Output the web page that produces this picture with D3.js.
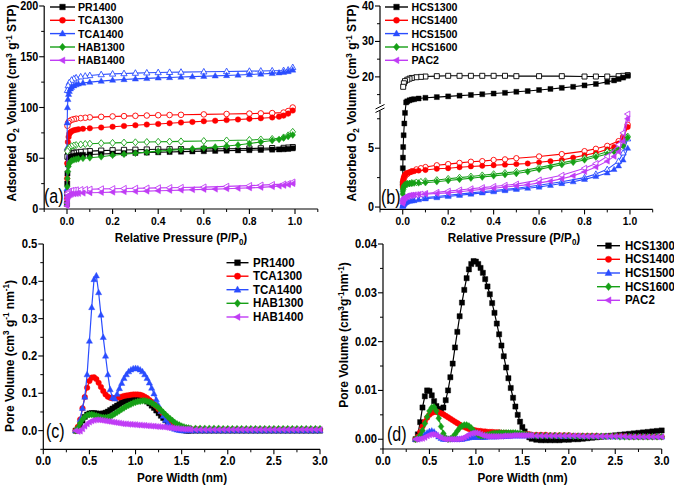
<!DOCTYPE html>
<html><head><meta charset="utf-8">
<script src="https://cdn.jsdelivr.net/npm/d3@7"></script>
<style>
body{margin:0;background:#fff;}
svg{display:block;font-family:"Liberation Sans",Arial,sans-serif;}
</style></head><body>
<svg id="chart" width="674" height="486"></svg>
<script>
// ---------- DATA ----------
const namesA = ['PR1400','TCA1300','TCA1400','HAB1300','HAB1400'];
const namesB = ['HCS1300','HCS1400','HCS1500','HCS1600','PAC2'];
const seriesColors = ['#000000','#ff0000','#2a4dff','#16a016','#c03cf5'];
const seriesSymbols = ['square','circle','triUp','diamond','triLeft'];

// relative pressure grids (adsorption / desorption branches)
const pAds = [0,0.0005,0.001,0.002,0.004,0.007,0.01,0.015,0.02,0.03,0.04,0.05,0.07,0.1,0.15,0.2,0.25,0.3,0.35,0.4,0.45,0.5,0.55,0.6,0.65,0.7,0.75,0.8,0.85,0.9,0.93,0.95,0.97,0.99];
const pDes = [0.99,0.97,0.95,0.9,0.85,0.8,0.7,0.6,0.5,0.45,0.4,0.35,0.3,0.25,0.2,0.15,0.1,0.08,0.06,0.04,0.03,0.02,0.01,0.005,0.002];

// panel (a) isotherms
const adsPR1400 = [5,15,25,35,44,48,50,51,51.5,52, 52.5,53,53.3,53.7,54.2,54.6,55,55.3,55.6,55.9, 56.2,56.5,56.8,57,57.3,57.5,57.8,58,58.2,58.5, 58.7,58.9,59.2,59.8];
const adsTCA1300 = [10,30,45,58,66,71,74,75.5,76.5,77.5, 78,78.5,79,79.5,80.3,81,81.8,82.5,83.2,83.8, 84.5,85.2,85.8,86.5,87,87.6,88.2,88.8,89.4,90.2, 91,92,94,97];
const adsTCA1400 = [20,60,85,100,108,113,116,118.5,120,121.5, 122.5,123.3,124.2,125,126,127,127.6,128.2,128.7,129.2, 129.6,130,130.4,130.8,131.2,131.6,132,132.5,133,133.6, 134.2,134.8,135.5,137];
const adsHAB1300 = [5,15,22,30,37,42,45,46.5,47.5,48.5, 49,49.5,50,50.5,51.5,53,54,55,56,57, 57.8,58.6,59.4,60.2,61,62,63,64.5,66,67.5, 68.5,70,71.5,73];
const adsHAB1400 = [3,6,9,11,12.5,13.5,14,14.5,14.8,15, 15.2,15.4,15.7,16,16.3,16.6,17,17.3,17.6,18, 18.3,18.6,19,19.3,19.6,20,20.4,20.8,21.3,22, 22.6,23.2,24,25];
const desPR1400 = [61,60.5,60.2,60,59.8,59.6,59.4,59.2,59,58.9, 58.8,58.6,58.4,58.2,57.9,57.5,57,56.6,56.2,55.7, 55.3,54.8,54,53,51.5];
const desTCA1300 = [100,96.5,95,94.5,94.2,94,93.6,93.2,92.8,92.6, 92.4,92.1,91.8,91.5,91.2,90.8,90.3,89.9,89.5,89, 88.5,87.8,86.5,85,82];
const desTCA1400 = [139.5,137,136.5,136.2,136,135.8,135.5,135.2,134.9,134.7, 134.5,134.2,133.9,133.5,133.1,132.5,131.6,131,130.3,129.3, 128.4,127,124.5,121.5,117];
const desHAB1300 = [76,72.5,70.5,69,68.5,68,67.5,67,66.6,66.4, 66.2,66,65.7,65.4,65.1,64.8,64.3,64,63.6,63, 62.5,61.8,60.5,59,57];
const desHAB1400 = [26.5,25,24.5,24,23.5,23,22.3,21.6,21.2,21, 20.8,20.6,20.4,20.2,20,19.8,19.5,19.3,19.1,18.8, 18.5,18.2,17.5,16.5,15];

// panel (b) isotherms
const adsHCS1300 = [2,3.3,4.2,5.1,6.1,7.1,8.0,12.8,13.1,13.4, 13.6,13.7,13.9,14.1,14.3,14.5,14.7,14.9,15.1,15.3, 15.5,15.8,16.0,16.3,16.6,16.9,17.2,17.6,18.0,18.6, 19.0,19.4,19.8,20.3];
const adsHCS1400 = [1.7,1.9,2.1,2.3,2.5,2.65,2.75,2.85,2.9,2.95, 3.0,3.05,3.1,3.15,3.25,3.3,3.38,3.45,3.5,3.55, 3.6,3.65,3.7,3.8,3.9,4.0,4.2,4.4,4.6,4.9, 5.1,5.4,5.9,6.8];
const adsHCS1500 = [0.05,0.1,0.15,0.2,0.25,0.3,0.35,0.4,0.45,0.5, 0.53,0.55,0.62,0.7,0.8,0.9,1.0,1.1,1.2,1.3, 1.4,1.5,1.6,1.7,1.85,2.0,2.15,2.35,2.6,2.9, 3.2,3.5,4.0,5.0];
const adsHCS1600 = [1.1,1.3,1.45,1.6,1.75,1.85,1.9,1.95,1.98,2.0, 2.02,2.04,2.05,2.07,2.15,2.25,2.35,2.45,2.55,2.65, 2.75,2.85,3.0,3.2,3.4,3.6,3.8,4.0,4.25,4.5, 4.7,4.9,5.2,5.9];
const adsPAC2 = [0.3,0.4,0.5,0.6,0.7,0.8,0.85,0.9,0.95,1.0, 1.02,1.05,1.08,1.1,1.15,1.2,1.3,1.4,1.5,1.6, 1.7,1.8,1.9,2.05,2.2,2.4,2.65,3.0,3.4,3.9, 4.3,4.7,5.6,7.5];
const desHCS1300 = [20.5,20.3,20.2,20.1,20.1,20.1,20.2,20.2,20.2,20.3, 20.3,20.3,20.3,20.3,20.3,20.2,20.1,20.0,19.9,19.7, 19.5,19.2,18.8,18.2,17.2];
const desHCS1400 = [7.0,6.0,5.6,5.2,4.95,4.75,4.5,4.3,4.15,4.05, 4.0,3.9,3.85,3.75,3.65,3.55,3.4,3.3,3.2,3.05, 2.95,2.8,2.6,2.4,2.2];
const desHCS1500 = [5.8,4.6,3.9,3.2,2.8,2.5,2.15,1.85,1.6,1.5, 1.4,1.3,1.2,1.1,1.0,0.9,0.8,0.75,0.7,0.62, 0.58,0.52,0.45,0.35,0.25];
const desHCS1600 = [6.0,5.4,5.1,4.7,4.4,4.15,3.75,3.35,3.0,2.9, 2.8,2.7,2.6,2.5,2.4,2.3,2.2,2.15,2.1,2.05, 2.0,1.95,1.85,1.7,1.5];
const desPAC2 = [7.9,6.3,5.3,4.3,3.7,3.3,2.7,2.3,1.95,1.85, 1.75,1.65,1.55,1.45,1.35,1.25,1.15,1.1,1.05,1.0, 0.95,0.9,0.8,0.7,0.55];

// pore width grid (nm) for panels (c) and (d)
const poreWidth = [0.35,0.375,0.40,0.425,0.45,0.475,0.50,0.525,0.55,0.575, 0.60,0.625,0.65,0.675,0.70,0.725,0.75,0.775,0.80,0.825,
  0.85,0.875,0.90,0.925,0.95,0.975,1.00,1.025,1.05,1.075, 1.10,1.125,1.15,1.175,1.20,1.225,1.25,1.275,1.30,1.325,
  1.35,1.375,1.40,1.425,1.45,1.475,1.50,1.525,1.55,1.575, 1.60,
  1.65,1.70,1.75,1.80,1.85,1.90,1.95,2.00,2.05,2.10, 2.15,2.20,2.25,2.30,2.35,2.40,2.45,2.50,2.55,2.60, 2.65,2.70,2.75,2.80,2.85,2.90,2.95,3.00];

// panel (c) pore size distributions
const psdPR1400 = [0.000,0.005,0.015,0.027,0.037,0.043,0.046,0.047,0.047,0.046, 0.045,0.045,0.046,0.048,0.051,0.055,0.059,0.063,0.067,0.071,
  0.075,0.078,0.081,0.084,0.086,0.087,0.088,0.088,0.087,0.085, 0.082,0.078,0.073,0.067,0.061,0.054,0.047,0.040,0.034,0.028,
  0.022,0.017,0.012,0.009,0.006,0.004,0.002,0.001,0.000,0.000, 0.000,
  0,0,0,0,0,0,0,0,0,0, 0,0,0,0,0,0,0,0,0,0, 0,0,0,0,0,0,0,0];
const psdTCA1300 = [0.000,0.010,0.030,0.060,0.090,0.115,0.133,0.142,0.143,0.138, 0.128,0.117,0.106,0.097,0.091,0.088,0.087,0.087,0.088,0.089,
  0.091,0.093,0.094,0.095,0.096,0.097,0.097,0.097,0.096,0.094, 0.091,0.087,0.082,0.077,0.071,0.065,0.058,0.051,0.045,0.039,
  0.033,0.027,0.022,0.018,0.014,0.011,0.009,0.007,0.006,0.005, 0.004,
  0.004,0.004,0.003,0.003,0.003,0.003,0.003,0.003,0.003,0.003, 0.003,0.003,0.003,0.003,0.003,0.003,0.003,0.003,0.003,0.003, 0.003,0.003,0.003,0.003,0.003,0.003,0.003,0.003];
const psdTCA1400 = [0.000,0.005,0.030,0.060,0.090,0.150,0.240,0.330,0.405,0.415, 0.370,0.310,0.250,0.200,0.150,0.110,0.088,0.085,0.098,0.113,
  0.127,0.140,0.150,0.158,0.163,0.166,0.167,0.166,0.163,0.158, 0.150,0.140,0.128,0.114,0.099,0.083,0.067,0.052,0.039,0.028,
  0.019,0.012,0.007,0.004,0.002,0.001,0.000,0.000,0.000,0.000, 0.000,
  0,0,0,0,0,0,0,0,0,0, 0,0,0,0,0,0,0,0,0,0, 0,0,0,0,0,0,0,0];
const psdHAB1300 = [0.000,0.008,0.020,0.030,0.037,0.041,0.043,0.043,0.042,0.040, 0.038,0.036,0.035,0.035,0.036,0.038,0.041,0.045,0.049,0.053,
  0.057,0.061,0.065,0.068,0.071,0.074,0.076,0.078,0.079,0.080, 0.080,0.079,0.077,0.074,0.070,0.066,0.061,0.055,0.049,0.043,
  0.037,0.032,0.027,0.022,0.018,0.015,0.012,0.010,0.008,0.007, 0.006,
  0.006,0.006,0.006,0.006,0.006,0.006,0.005,0.005,0.005,0.005, 0.005,0.005,0.005,0.005,0.005,0.005,0.005,0.005,0.005,0.005, 0.005,0.005,0.005,0.005,0.005,0.005,0.005,0.005];
const psdHAB1400 = [0.000,-0.002,-0.001,0.005,0.012,0.018,0.023,0.026,0.028,0.029, 0.029,0.028,0.027,0.026,0.025,0.024,0.023,0.022,0.021,0.020,
  0.019,0.018,0.018,0.017,0.017,0.016,0.016,0.015,0.015,0.014, 0.014,0.013,0.013,0.012,0.012,0.011,0.011,0.010,0.010,0.009,
  0.008,0.008,0.007,0.006,0.006,0.005,0.005,0.004,0.004,0.004, 0.003,
  0.003,0.003,0.003,0.003,0.003,0.003,0.003,0.003,0.003,0.003, 0.003,0.003,0.003,0.003,0.003,0.003,0.003,0.003,0.003,0.003, 0.003,0.003,0.003,0.003,0.003,0.003,0.003,0.003];

// panel (d) pore size distributions
const psdHCS1300 = [0.0000,0.0010,0.0035,0.0065,0.0088,0.0100,0.0099,0.0090,0.0078,0.0068, 0.0062,0.0061,0.0065,0.0080,0.0100,0.0127,0.0155,0.0188,0.0220,0.0252,
  0.0280,0.0306,0.0330,0.0348,0.0359,0.0365,0.0364,0.0359,0.0351,0.0341, 0.0328,0.0313,0.0297,0.0279,0.0259,0.0237,0.0215,0.0192,0.0170,0.0147,
  0.0125,0.0105,0.0085,0.0067,0.0050,0.0036,0.0025,0.0016,0.0009,0.0004, 0.0001,
  -0.0001,-0.0002,-0.0002,-0.0002,-0.0002,-0.0002,-0.0001,-0.0001,0.0000,0.0000, 0.0001,0.0002,0.0003,0.0004,0.0005,0.0006,0.0007,0.0008,0.0009,0.0010,
  0.0011,0.0012,0.0013,0.0014,0.0015,0.0016,0.0017,0.0018];
const psdHCS1400 = [0.0000,0.0005,0.0015,0.0026,0.0036,0.0044,0.0050,0.0054,0.0056,0.0056, 0.0055,0.0053,0.0051,0.0048,0.0045,0.0042,0.0039,0.0036,0.0033,0.0030,
  0.0027,0.0025,0.0023,0.0021,0.0020,0.0019,0.0018,0.0017,0.0017,0.0016, 0.0016,0.0015,0.0015,0.0015,0.0014,0.0014,0.0014,0.0013,0.0013,0.0013,
  0.0012,0.0012,0.0012,0.0011,0.0011,0.0011,0.0010,0.0010,0.0010,0.0010, 0.0009,
  0.0009,0.0009,0.0009,0.0008,0.0008,0.0008,0.0008,0.0008,0.0007,0.0007, 0.0007,0.0007,0.0007,0.0007,0.0006,0.0006,0.0006,0.0006,0.0006,0.0006,
  0.0005,0.0005,0.0005,0.0005,0.0005,0.0005,0.0005,0.0005];
const psdHCS1500 = [0.0000,0.0001,0.0003,0.0006,0.0010,0.0013,0.0016,0.0017,0.0015,0.0010, 0.0005,0.0002,0.0000,0.0000,0.0000,0.0000,0.0000,0.0000,0.0000,0.0000,
  0.0000,0.0001,0.0002,0.0003,0.0004,0.0004,0.0004,0.0004,0.0004,0.0004, 0.0004,0.0005,0.0005,0.0005,0.0005,0.0005,0.0006,0.0006,0.0006,0.0006,
  0.0006,0.0007,0.0007,0.0007,0.0007,0.0007,0.0007,0.0007,0.0007,0.0007, 0.0007,
  0.0007,0.0007,0.0007,0.0007,0.0007,0.0006,0.0006,0.0006,0.0006,0.0006, 0.0006,0.0006,0.0006,0.0006,0.0006,0.0005,0.0005,0.0005,0.0005,0.0005,
  0.0005,0.0005,0.0005,0.0005,0.0005,0.0005,0.0005,0.0005];
const psdHCS1600 = [0.0000,0.0002,0.0008,0.0018,0.0032,0.0046,0.0058,0.0065,0.0066,0.0058, 0.0043,0.0026,0.0012,0.0003,0.0000,0.0001,0.0004,0.0010,0.0017,0.0023,
  0.0027,0.0029,0.0029,0.0027,0.0023,0.0018,0.0013,0.0009,0.0007,0.0007, 0.0008,0.0009,0.0010,0.0011,0.0012,0.0012,0.0013,0.0013,0.0013,0.0013,
  0.0013,0.0013,0.0013,0.0013,0.0012,0.0012,0.0011,0.0010,0.0009,0.0008, 0.0008,
  0.0007,0.0007,0.0007,0.0007,0.0007,0.0007,0.0007,0.0007,0.0006,0.0006, 0.0006,0.0006,0.0006,0.0006,0.0006,0.0006,0.0006,0.0006,0.0005,0.0005,
  0.0005,0.0005,0.0005,0.0005,0.0005,0.0005,0.0005,0.0005];
const psdPAC2 = [0.0000,0.0000,0.0001,0.0002,0.0004,0.0007,0.0009,0.0010,0.0010,0.0008, 0.0005,0.0003,0.0001,0.0000,0.0000,0.0000,0.0000,0.0000,0.0000,0.0001,
  0.0002,0.0004,0.0007,0.0010,0.0012,0.0013,0.0013,0.0012,0.0010,0.0008, 0.0007,0.0006,0.0006,0.0006,0.0006,0.0006,0.0006,0.0006,0.0007,0.0007,
  0.0007,0.0007,0.0008,0.0008,0.0008,0.0008,0.0008,0.0008,0.0008,0.0008, 0.0008,
  0.0007,0.0007,0.0007,0.0007,0.0007,0.0007,0.0007,0.0007,0.0007,0.0007, 0.0006,0.0006,0.0006,0.0006,0.0006,0.0006,0.0006,0.0006,0.0006,0.0006,
  0.0005,0.0005,0.0005,0.0005,0.0005,0.0005,0.0005,0.0005];

// tick values
const ticksAx = [0.0,0.2,0.4,0.6,0.8,1.0], minorAx = [-0.1,0.1,0.3,0.5,0.7,0.9,1.1];
const ticksAy = [0,50,100,150,200], minorAy = [25,75,125,175];
const ticksBy = [0,5,20,30,40], minorBy = [2.5,7.5,15,25,35];
const ticksCx = [0,0.5,1.0,1.5,2.0,2.5,3.0], minorCx = [0.25,0.75,1.25,1.75,2.25,2.75];
const ticksCy = [0,0.1,0.2,0.3,0.4,0.5], minorCy = [-0.05,0.05,0.15,0.25,0.35,0.45];
const ticksDy = [0,0.01,0.02,0.03,0.04], minorDy = [-0.002,0.005,0.015,0.025,0.035];

// ---------- DRAWING ----------
const svg = d3.select('#chart');
const SX = 0.9;

function sym(type, r) {
  switch (type) {
    case 'square': return `M${-r},${-r}H${r}V${r}H${-r}Z`;
    case 'circle': return d3.symbol(d3.symbolCircle, Math.PI * r * r * 1.15)();
    case 'triUp': return `M0,${-r*1.3}L${r*1.2},${r*0.85}L${-r*1.2},${r*0.85}Z`;
    case 'diamond': return `M0,${-r*1.35}L${r*1.1},0L0,${r*1.35}L${-r*1.1},0Z`;
    case 'triLeft': return `M${-r*1.3},0L${r*0.85},${-r*1.2}L${r*0.85},${r*1.2}Z`;
  }
}

function label(g, x, y, str, size, weight, anchor) {
  return g.append('text').attr('transform', `translate(${x},${y}) scale(${SX},1)`)
    .attr('font-size', size).attr('font-weight', weight || 'bold')
    .attr('text-anchor', anchor || 'middle').attr('fill', '#000').text(str);
}

function bottomAxis(g, x, yPos, major, minor, fmt, fs) {
  const [r0, r1] = x.range();
  g.append('line').attr('x1', r0).attr('x2', r1).attr('y1', yPos).attr('y2', yPos).attr('stroke', '#000').attr('stroke-width', 1.2);
  major.forEach(v => {
    g.append('line').attr('x1', x(v)).attr('x2', x(v)).attr('y1', yPos).attr('y2', yPos + 5).attr('stroke', '#000').attr('stroke-width', 1.1);
    label(g, x(v), yPos + 16, fmt(v), fs, 'bold', 'middle');
  });
  minor.forEach(v => {
    g.append('line').attr('x1', x(v)).attr('x2', x(v)).attr('y1', yPos).attr('y2', yPos + 3).attr('stroke', '#000').attr('stroke-width', 1);
  });
}

function leftAxis(g, y, xPos, major, minor, fmt, fs, drawLine) {
  if (drawLine !== false) {
    const [r0, r1] = y.range();
    g.append('line').attr('x1', xPos).attr('x2', xPos).attr('y1', r0).attr('y2', r1).attr('stroke', '#000').attr('stroke-width', 1.2);
  }
  major.forEach(v => {
    g.append('line').attr('x1', xPos - 5).attr('x2', xPos).attr('y1', y(v)).attr('y2', y(v)).attr('stroke', '#000').attr('stroke-width', 1.1);
    label(g, xPos - 6, y(v) + 4, fmt(v), fs, 'bold', 'end');
  });
  minor.forEach(v => {
    g.append('line').attr('x1', xPos - 3).attr('x2', xPos).attr('y1', y(v)).attr('y2', y(v)).attr('stroke', '#000').attr('stroke-width', 1);
  });
}

function drawSeries(g, xs, ys, x, y, color, type, r, open, lw) {
  const n = Math.min(xs.length, ys.length);
  const pts = d3.range(n).map(i => [xs[i], ys[i]]);
  g.append('path').attr('d', d3.line().x(d => x(d[0])).y(d => y(d[1]))(pts))
    .attr('fill', 'none').attr('stroke', color).attr('stroke-width', lw || 1.1);
  g.selectAll(null).data(pts).enter().append('path')
    .attr('d', sym(type, r))
    .attr('transform', d => `translate(${x(d[0])},${y(d[1])})`)
    .attr('fill', open ? '#fff' : color).attr('stroke', color).attr('stroke-width', open ? 0.9 : 0.4);
}

function legend(g, names, x0, x1, mx, tx, ys, r, fontSize) {
  names.forEach((n, i) => {
    const y = ys[i];
    g.append('line').attr('x1', x0).attr('x2', x1).attr('y1', y).attr('y2', y).attr('stroke', seriesColors[i]).attr('stroke-width', 1.4);
    g.append('path').attr('d', sym(seriesSymbols[i], r)).attr('transform', `translate(${mx},${y})`).attr('fill', seriesColors[i]).attr('stroke', seriesColors[i]).attr('stroke-width', 0.4);
    label(g, tx, y + 4, n, fontSize, 'bold', 'start');
  });
}

function richText(t, parts, size) {
  let shift = 0;
  parts.forEach(p => {
    const target = p.s === 'sub' ? 3 : p.s === 'sup' ? -4.5 : 0;
    t.append('tspan').attr('dy', target - shift).attr('font-size', p.s ? size * 0.68 : size).text(p.t);
    shift = target;
  });
}
function yTitle(g, x, y, parts, size) {
  const t = g.append('text').attr('transform', `translate(${x},${y}) rotate(-90)`)
    .attr('font-size', size).attr('font-weight', 'bold').attr('text-anchor', 'middle');
  richText(t, parts, size);
}
function xTitle(g, x, y, parts, size) {
  const t = g.append('text').attr('transform', `translate(${x},${y}) scale(${SX},1)`)
    .attr('font-size', size).attr('font-weight', 'bold').attr('text-anchor', 'middle');
  richText(t, parts, size);
}
const f1 = d3.format('.1f');

// ===== Panel (a) =====
{
  const g = svg.append('g');
  const x = d3.scaleLinear().domain([-0.1, 1.1]).range([44.2, 317.8]);
  const y = d3.scaleLinear().domain([0, 200]).range([209, 6]);
  bottomAxis(g, x, 209, ticksAx, minorAx, f1, 11.5);
  leftAxis(g, y, 44.2, ticksAy, minorAy, d3.format('d'), 12);
  const ads = [adsPR1400, adsTCA1300, adsTCA1400, adsHAB1300, adsHAB1400];
  const des = [desPR1400, desTCA1300, desTCA1400, desHAB1300, desHAB1400];
  ads.forEach((a, i) => {
    drawSeries(g, pDes, des[i], x, y, seriesColors[i], seriesSymbols[i], 2.6, true);
    drawSeries(g, pAds, a, x, y, seriesColors[i], seriesSymbols[i], 2.6, false);
  });
  legend(g, namesA, 50, 75, 62.5, 78, [7, 20.3, 33.6, 47, 60.3], 2.8, 11.8);
  yTitle(g, 16, 103, [{t:'Adsorbed O'},{t:'2',s:'sub'},{t:' Volume (cm'},{t:'3',s:'sup'},{t:' g'},{t:'-1',s:'sup'},{t:' STP)'}], 12);
  xTitle(g, 181, 242, [{t:'Relative Pressure (P/P'},{t:'0',s:'sub'},{t:')'}], 13);
  g.append('text').attr('transform', 'translate(44,203) scale(0.8,1)').attr('font-size', 20).text('(a)');
}

// ===== Panel (b) =====
{
  const g = svg.append('g');
  const x = d3.scaleLinear().domain([-0.1, 1.1]).range([380, 652.7]);
  const y = d3.scaleLinear().domain([-0.2, 8.5, 11.5, 40]).range([209.4, 107, 107, 6]);
  bottomAxis(g, x, 209.4, ticksAx, minorAx, f1, 11.5);
  // broken left axis
  g.append('line').attr('x1', 380).attr('x2', 380).attr('y1', 209.4).attr('y2', 110.5).attr('stroke', '#000').attr('stroke-width', 1.2);
  g.append('line').attr('x1', 380).attr('x2', 380).attr('y1', 104).attr('y2', 6).attr('stroke', '#000').attr('stroke-width', 1.2);
  g.append('line').attr('x1', 375.5).attr('x2', 384.5).attr('y1', 109).attr('y2', 104.5).attr('stroke', '#000').attr('stroke-width', 1);
  g.append('line').attr('x1', 375.5).attr('x2', 384.5).attr('y1', 112.5).attr('y2', 108).attr('stroke', '#000').attr('stroke-width', 1);
  leftAxis(g, y, 380, ticksBy, minorBy, d3.format('d'), 12, false);
  const ads = [adsHCS1300, adsHCS1400, adsHCS1500, adsHCS1600, adsPAC2];
  const des = [desHCS1300, desHCS1400, desHCS1500, desHCS1600, desPAC2];
  ads.forEach((a, i) => {
    drawSeries(g, pDes, des[i], x, y, seriesColors[i], seriesSymbols[i], 2.5, true);
    drawSeries(g, pAds, a, x, y, seriesColors[i], seriesSymbols[i], 2.5, false);
  });
  legend(g, namesB, 385, 408, 396.5, 411.5, [7, 20.3, 33.6, 47, 60.3], 2.8, 11.8);
  yTitle(g, 356, 103, [{t:'Adsorbed O'},{t:'2',s:'sub'},{t:' Volume (cm'},{t:'3',s:'sup'},{t:' g'},{t:'-1',s:'sup'},{t:' STP)'}], 12);
  xTitle(g, 514, 242, [{t:'Relative Pressure (P/P'},{t:'0',s:'sub'},{t:')'}], 13);
  g.append('text').attr('transform', 'translate(381,204) scale(0.8,1)').attr('font-size', 20).text('(b)');
}

// ===== Panel (c) =====
{
  const g = svg.append('g');
  const x = d3.scaleLinear().domain([0, 3]).range([43.3, 320]);
  const y = d3.scaleLinear().domain([-0.05, 0.5]).range([449.3, 244]);
  bottomAxis(g, x, 449.3, ticksCx, minorCx, f1, 12.5);
  leftAxis(g, y, 43.3, ticksCy, minorCy, f1, 12.5);
  const ser = [psdPR1400, psdTCA1300, psdTCA1400, psdHAB1300, psdHAB1400];
  ser.forEach((s, i) => drawSeries(g, poreWidth, s, x, y, seriesColors[i], seriesSymbols[i], 2.6, false, 1.2));
  legend(g, namesA, 226.5, 248.5, 237.5, 253, [262.7, 276.2, 289.7, 303.3, 317], 2.9, 12.8);
  yTitle(g, 13.5, 356, [{t:'Pore Volume (cm'},{t:'3',s:'sup'},{t:' g'},{t:'-1',s:'sup'},{t:' nm'},{t:'-1',s:'sup'},{t:')'}], 12);
  xTitle(g, 182, 481.5, [{t:'Pore Width (nm)'}], 13);
  g.append('text').attr('transform', 'translate(46,438) scale(0.8,1)').attr('font-size', 20).text('(c)');
}

// ===== Panel (d) =====
{
  const g = svg.append('g');
  const x = d3.scaleLinear().domain([0, 3]).range([383, 661.7]);
  const y = d3.scaleLinear().domain([-0.002, 0.04]).range([449, 244]);
  bottomAxis(g, x, 449, ticksCx, minorCx, f1, 12.5);
  leftAxis(g, y, 383, ticksDy, minorDy, d3.format('.2f'), 12.5);
  const ser = [psdHCS1300, psdHCS1400, psdHCS1500, psdHCS1600, psdPAC2];
  ser.forEach((s, i) => drawSeries(g, poreWidth, s, x, y, seriesColors[i], seriesSymbols[i], 2.6, false, 1.2));
  legend(g, namesB, 597, 620, 608.5, 625, [245.7, 259.3, 273, 286.7, 300.3], 2.9, 12.8);
  yTitle(g, 348, 335, [{t:'Pore Volume (cm'},{t:'3',s:'sup'},{t:'g'},{t:'-1',s:'sup'},{t:'nm'},{t:'-1',s:'sup'},{t:')'}], 12);
  xTitle(g, 522.5, 481.5, [{t:'Pore Width (nm)'}], 13);
  g.append('text').attr('transform', 'translate(387,441) scale(0.8,1)').attr('font-size', 20).text('(d)');
}
</script></body></html>
